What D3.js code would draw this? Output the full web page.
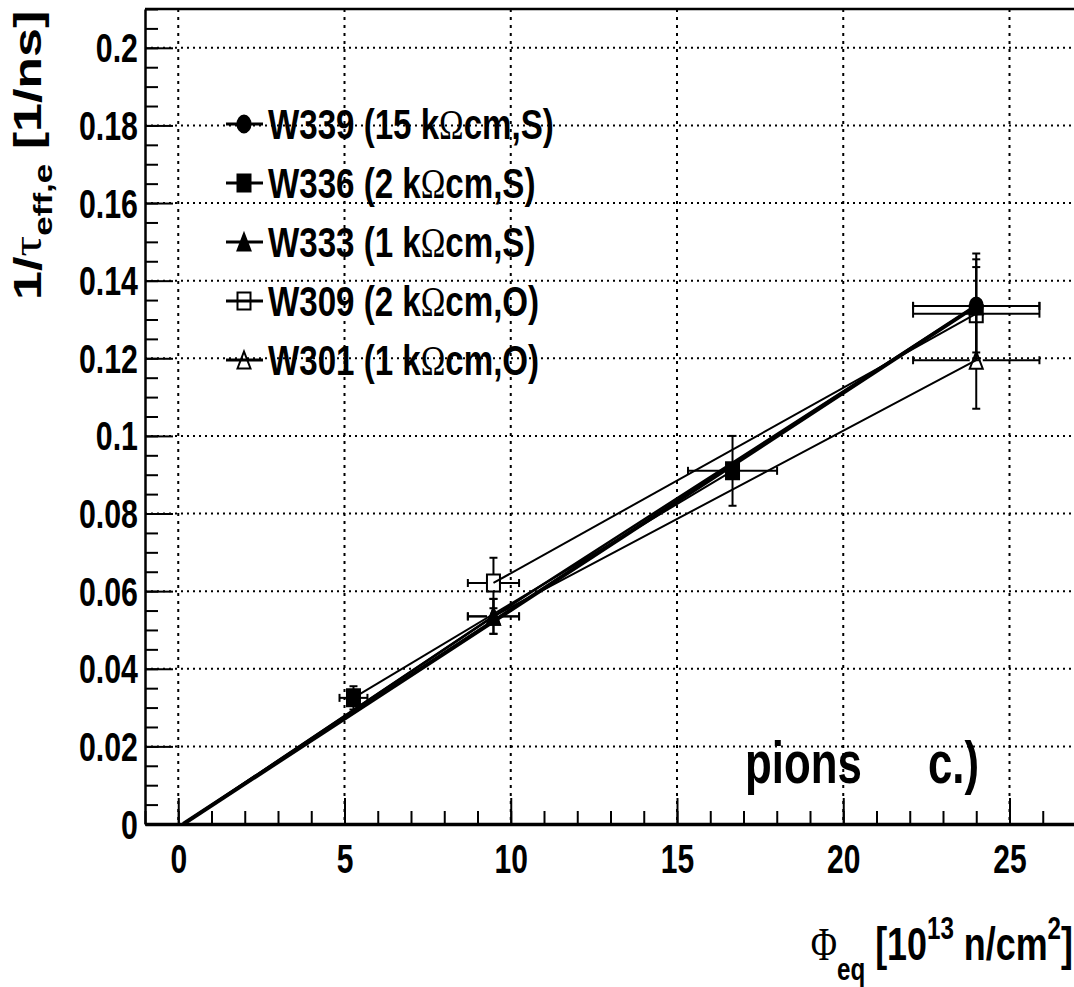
<!DOCTYPE html>
<html>
<head>
<meta charset="utf-8">
<script src="https://cdn.jsdelivr.net/npm/d3@7"></script>
<style>
  body { margin: 0; background: #fff; }
  text { font-family: "Liberation Sans", Arial, sans-serif; font-weight: bold; fill: #000; }
</style>
</head>
<body>
<svg id="chart" width="1074" height="987"></svg>
<script>
// tick labels
var xTicks = [0, 5, 10, 15, 20, 25];
var yTicks = [0, 0.02, 0.04, 0.06, 0.08, 0.1, 0.12, 0.14, 0.16, 0.18, 0.2];

// series names and markers
var names = ['W339', 'W336', 'W333', 'W309', 'W301'];
var labels = ['(15 k', '(2 k', '(1 k', '(2 k', '(1 k'];
var labelEnds = ['cm,S)', 'cm,S)', 'cm,S)', 'cm,O)', 'cm,O)'];
var markers = ['circle', 'square', 'triangle', 'squareOpen', 'triangleOpen'];
var widths = [4, 2, 2.5, 2, 2];

// fluence (x), 1/tau (y) and their errors, one list per wafer
var w339X = [0.15, 24.0];
var w339Y = [0, 0.1335];
var w339Ex = [0, 1.9];
var w339Ey = [0, 0.012];

var w336X = [5.27, 16.67];
var w336Y = [0.0325, 0.091];
var w336Ex = [0.42, 1.34];
var w336Ey = [0.003, 0.009];

var w333X = [0.15, 9.48, 24.0];
var w333Y = [0, 0.0535, 0.1335];
var w333Ex = [0, 0.77, 1.9];
var w333Ey = [0, 0.0045, 0.0135];

var w309X = [9.48, 24.0];
var w309Y = [0.0621, 0.1315];
var w309Ex = [0.77, 1.9];
var w309Ey = [0.0065, 0.012];

var w301X = [0.15, 9.48, 24.0];
var w301Y = [0, 0.0535, 0.1195];
var w301Ex = [0, 0.77, 1.9];
var w301Ey = [0, 0.0045, 0.0125];

var seriesX = [w339X, w336X, w333X, w309X, w301X];
var seriesY = [w339Y, w336Y, w333Y, w309Y, w301Y];
var seriesEx = [w339Ex, w336Ex, w333Ex, w309Ex, w301Ex];
var seriesEy = [w339Ey, w336Ey, w333Ey, w309Ey, w301Ey];

var svg = d3.select('#chart');
var padL = 145, padR = 1076, padT = 9, padB = 824;

var x = d3.scaleLinear().domain([-1, 27]).range([padL, padR]);
var y = d3.scaleLinear().domain([0, 0.21]).range([padB, padT]);

// grid
svg.append('g').selectAll('line').data(yTicks.slice(1)).enter()
  .append('line')
  .attr('x1', padL).attr('x2', padR)
  .attr('y1', function(d) {return y(d)}).attr('y2', function(d) {return y(d)})
  .attr('stroke', '#000').attr('stroke-width', 2).attr('stroke-dasharray', '2,4');
svg.append('g').selectAll('line').data(xTicks).enter()
  .append('line')
  .attr('x1', function(d) {return x(d)}).attr('x2', function(d) {return x(d)})
  .attr('y1', padT).attr('y2', padB)
  .attr('stroke', '#000').attr('stroke-width', 2).attr('stroke-dasharray', '3,5');

// axes
var minorX = d3.range(-1, 28);
var minorY = d3.range(0, 43).map(function(i) {return i * 0.005});

svg.append('g').attr('transform', 'translate(0,' + padB + ')')
  .call(d3.axisBottom(x).tickValues(minorX).tickSize(-13).tickSizeOuter(0).tickFormat(''))
  .call(function(g) {g.select('.domain').remove()})
  .selectAll('line').attr('stroke-width', 2);
var gx = svg.append('g').attr('transform', 'translate(0,' + padB + ')')
  .call(d3.axisBottom(x).tickValues(xTicks).tickSize(-26).tickSizeOuter(0).tickFormat(d3.format('d')));
gx.select('.domain').attr('stroke-width', 3.5);
gx.selectAll('line').attr('stroke-width', 2);
gx.selectAll('text').attr('y', 0).attr('dy', null)
  .attr('transform', 'translate(0,49) scale(0.75,1)')
  .style('font-size', '40px').attr('font-family', null);

svg.append('g').attr('transform', 'translate(' + padL + ',0)')
  .call(d3.axisLeft(y).tickValues(minorY).tickSize(-13).tickSizeOuter(0).tickFormat(''))
  .call(function(g) {g.select('.domain').remove()})
  .selectAll('line').attr('stroke-width', 2);
var gy = svg.append('g').attr('transform', 'translate(' + padL + ',0)')
  .call(d3.axisLeft(y).tickValues(yTicks).tickSize(-28).tickSizeOuter(0).tickFormat(d3.format('~g')));
gy.select('.domain').attr('stroke-width', 2.5);
gy.selectAll('line').attr('stroke-width', 2);
gy.selectAll('text').attr('x', 0).attr('dy', null)
  .attr('transform', 'translate(-7,14) scale(0.74,1)')
  .style('font-size', '41px').attr('font-family', null);

// top frame
svg.append('line').attr('x1', padL).attr('x2', padR).attr('y1', padT).attr('y2', padT)
  .attr('stroke', '#000').attr('stroke-width', 2.5);

// markers
var hw = 6.5, hh = 8.5;
function markerPath(type) {
  if (type.indexOf('square') === 0)
    return 'M' + (-hw) + ',' + (-hh) + 'H' + hw + 'V' + hh + 'H' + (-hw) + 'Z';
  if (type.indexOf('triangle') === 0)
    return 'M0,' + (-hh) + 'L' + hw + ',' + hh + 'H' + (-hw) + 'Z';
  return 'M' + (-hw) + ',0A' + hw + ',' + hh + ' 0 1,0 ' + hw + ',0A' + hw + ',' + hh + ' 0 1,0 ' + (-hw) + ',0Z';
}
function drawMarker(g, type, cx, cy) {
  var open = type.indexOf('Open') > 0;
  g.append('path')
    .attr('d', markerPath(type))
    .attr('transform', 'translate(' + cx + ',' + cy + ')')
    .attr('fill', open ? 'none' : '#000')
    .attr('stroke', '#000').attr('stroke-width', 2);
}

var plot = svg.append('g');
var line = d3.line().x(function(d) {return x(d.x)}).y(function(d) {return y(d.y)});

names.forEach(function(name, i) {
  var pts = seriesX[i].map(function(v, j) {
    return {x: v, y: seriesY[i][j], ex: seriesEx[i][j], ey: seriesEy[i][j]};
  });
  var g = plot.append('g');
  g.append('path').datum(pts).attr('d', line)
    .attr('fill', 'none').attr('stroke', '#000').attr('stroke-width', widths[i]);

  pts.filter(function(p) {return p.ey > 0}).forEach(function(p) {
    var cx = x(p.x), cy = y(p.y);
    var x0 = x(p.x - p.ex), x1 = x(p.x + p.ex);
    var y0 = y(p.y - p.ey), y1 = y(p.y + p.ey);
    var segs = [
      [x0, cy, cx - hw, cy], [cx + hw, cy, x1, cy],
      [cx, y1, cx, cy - hh], [cx, cy + hh, cx, y0],
      [x0, cy - 4, x0, cy + 4], [x1, cy - 4, x1, cy + 4],
      [cx - 4, y1, cx + 4, y1], [cx - 4, y0, cx + 4, y0]
    ];
    segs.forEach(function(s) {
      g.append('line').attr('x1', s[0]).attr('y1', s[1]).attr('x2', s[2]).attr('y2', s[3])
        .attr('stroke', '#000').attr('stroke-width', 2);
    });
    drawMarker(g, markers[i], cx, cy);
  });
});

// legend
var legend = svg.append('g');
names.forEach(function(name, i) {
  var ly = 124 + i * 59;
  legend.append('line').attr('x1', 226).attr('x2', 263).attr('y1', ly).attr('y2', ly)
    .attr('stroke', '#000').attr('stroke-width', 3);
  drawMarker(legend, markers[i], 244, ly);
  var t = legend.append('text')
    .attr('transform', 'translate(268,' + (ly + 15) + ') scale(0.77,1)')
    .style('font-size', '43px');
  t.append('tspan').text(name + ' ' + labels[i]);
  t.append('tspan').style('font-family', '"Liberation Serif", serif').style('font-weight', 'normal').text('Ω');
  t.append('tspan').text(labelEnds[i]);
});

// pions c.)
svg.append('text').attr('transform', 'translate(745,783) scale(0.73,1)')
  .style('font-size', '60px').text('pions');
svg.append('text').attr('transform', 'translate(928,783) scale(0.73,1)')
  .style('font-size', '60px').text('c.)');

// x title
var xt = svg.append('text').attr('transform', 'translate(1073,960) scale(0.78,1)')
  .attr('text-anchor', 'end').style('font-size', '46px');
xt.append('tspan').style('font-family', '"Liberation Serif", serif').style('font-weight', 'normal').text('Φ');
xt.append('tspan').attr('dy', 20).style('font-size', '31px').text('eq');
xt.append('tspan').attr('dy', -20).text(' [10');
xt.append('tspan').attr('dy', -21).style('font-size', '31px').text('13');
xt.append('tspan').attr('dy', 21).text(' n/cm');
xt.append('tspan').attr('dy', -21).style('font-size', '31px').text('2');
xt.append('tspan').attr('dy', 21).text(']');

// y title
var yt = svg.append('text').attr('transform', 'translate(41,300) scale(0.76,1) rotate(-90)')
  .style('font-size', '52px');
yt.append('tspan').text('1/');
yt.append('tspan').style('font-family', '"Liberation Serif", serif').style('font-weight', 'normal').text('τ');
yt.append('tspan').attr('dy', 15).style('font-size', '35px').text('eff,e');
yt.append('tspan').attr('dy', -15).text(' [1/ns]');
</script>
</body>
</html>
